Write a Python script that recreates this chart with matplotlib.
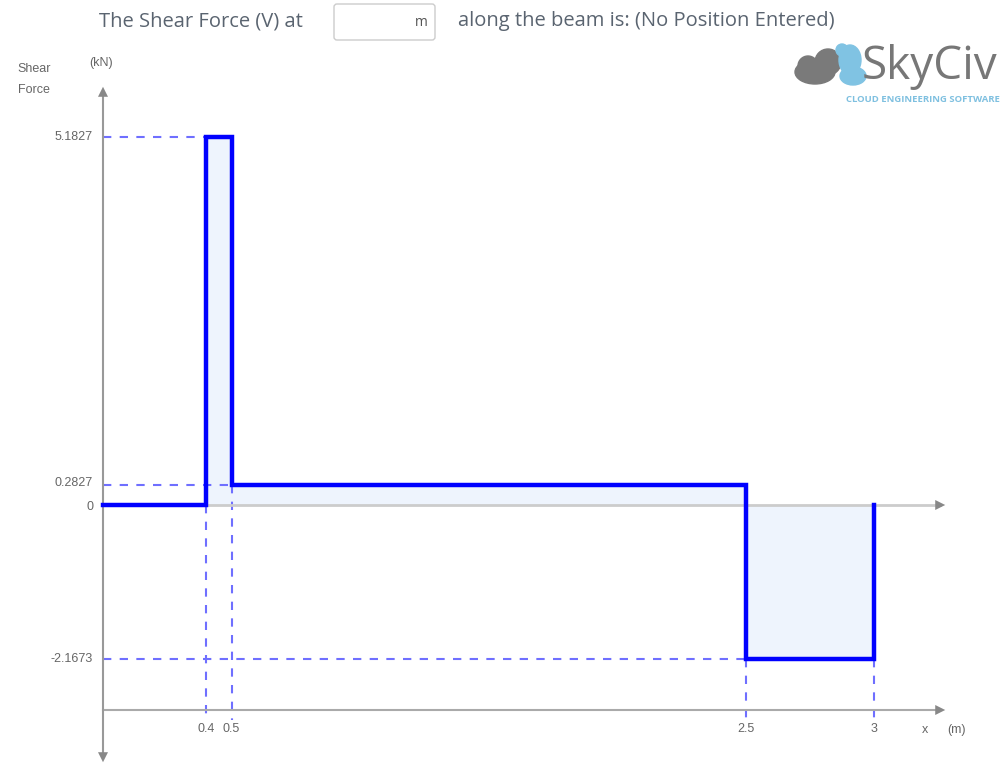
import matplotlib
matplotlib.use("Agg")
import matplotlib.pyplot as plt
from matplotlib.patches import FancyBboxPatch, Ellipse, Circle

# shear force diagram data
x_points = [0, 0.4, 0.5, 2.5, 3]
seg_values = [0, 5.1827, 0.2827, -2.1673]
x_labels = ["0.4", "0.5", "2.5", "3"]
y_labels = ["5.1827", "0.2827", "0", "-2.1673"]

BLUE = "#0000ff"
DASH = "#6f6fff"
FILL = "#eef4fd"
TXT = "#666666"

W, H = 1005, 767
fig = plt.figure(figsize=(W / 100, H / 100), dpi=100)

# chart axes: x=0 at px 103, 257 px per m; y=0 at px 505, 71 px per kN
ax = fig.add_axes([0, 0, 1, 1])
sx, sy = 257.0, 71.0
x0, y0 = 103.0, 505.0
ax.set_xlim(-x0 / sx, (W - x0) / sx)
ax.set_ylim(-(H - y0) / sy, y0 / sy)
ax.axis("off")

# step outline
xs, ys = [x_points[0]], [seg_values[0]]
for i, v in enumerate(seg_values):
    xs += [x_points[i], x_points[i + 1]]
    ys += [v, v]
xs.append(x_points[-1])
ys.append(0)

ax.fill_between(x_points, seg_values + [seg_values[-1]], 0, step="post",
                color=FILL, lw=0, zorder=1)

bottom_axis = -205 / sy
dash_end = -215 / sy

# dashed guides
for i in range(1, len(x_points)):
    prev_v = seg_values[i - 1]
    next_v = seg_values[i] if i < len(seg_values) else 0
    ax.plot([x_points[i], x_points[i]], [min(prev_v, next_v), dash_end],
            color=DASH, lw=1.5, ls=(0, (4, 4)), zorder=2)
for i, v in enumerate(seg_values):
    if v != 0:
        ax.plot([0, x_points[i]], [v, v], color=DASH, lw=1.5,
                ls=(0, (4, 4)), zorder=2)

# axes lines
tip_x = (948 - x0) / sx
ax.plot([0, tip_x - 0.03], [0, 0], color="#cccccc", lw=2, zorder=2)
ax.annotate("", xy=(tip_x, 0), xytext=(tip_x - 0.05, 0),
            arrowprops=dict(arrowstyle="-|>", color="#888888", lw=0,
                            mutation_scale=18))
ax.plot([0, tip_x - 0.03], [bottom_axis, bottom_axis], color="#aaaaaa",
        lw=1.5, zorder=2)
ax.annotate("", xy=(tip_x, bottom_axis), xytext=(tip_x - 0.05, bottom_axis),
            arrowprops=dict(arrowstyle="-|>", color="#888888", lw=0,
                            mutation_scale=18))
top_tip = (y0 - 84) / sy
bot_tip = -(765 - y0) / sy
ax.plot([0, 0], [bot_tip + 0.15, top_tip - 0.15], color="#999999", lw=1.5,
        zorder=2)
ax.annotate("", xy=(0, top_tip), xytext=(0, top_tip - 0.2),
            arrowprops=dict(arrowstyle="-|>", color="#888888", lw=0,
                            mutation_scale=18))
ax.annotate("", xy=(0, bot_tip), xytext=(0, bot_tip + 0.2),
            arrowprops=dict(arrowstyle="-|>", color="#888888", lw=0,
                            mutation_scale=18))

ax.plot(xs, ys, color=BLUE, lw=3.2, solid_joinstyle="miter", zorder=4)

# tick labels
lab_font = dict(family="Liberation Sans", fontsize=9, color=TXT)
y_vals = [5.1827, 0.2827, 0, -2.1673]
for v, s in zip(y_vals, y_labels):
    off = 0.03 if v == 0.2827 else (-0.03 if v == 0 else 0)
    ax.text(-10 / sx, v + off, s, ha="right", va="center", **lab_font)
for xv, s in zip(x_points[1:], x_labels):
    ax.text(xv, (y0 - 729) / sy, s, ha="center", va="center", **lab_font)
ax.text((925 - x0) / sx, (y0 - 730) / sy, "x", ha="center", va="center", **lab_font)
ax.text((956 - x0) / sx, (y0 - 730) / sy, "(m)", ha="center", va="center", **lab_font)
ax.text((34 - x0) / sx, (y0 - 69) / sy, "Shear", ha="center", va="center", **lab_font)
ax.text((34 - x0) / sx, (y0 - 90) / sy, "Force", ha="center", va="center", **lab_font)
ax.text((101 - x0) / sx, (y0 - 63) / sy, "(kN)", ha="center", va="center", **lab_font)

# header and logo in pixel coordinates
pax = fig.add_axes([0, 0, 1, 1], facecolor="none")
pax.set_xlim(0, W)
pax.set_ylim(H, 0)
pax.axis("off")

head = dict(family="Open Sans", fontsize=14.5, color="#5a6470", va="center")
pax.text(99, 21, "The Shear Force (V) at", ha="left", **head)
pax.add_patch(FancyBboxPatch((334, 4), 101, 36, boxstyle="round,pad=0,rounding_size=3",
                             fc="white", ec="#cccccc", lw=1))
pax.text(428, 23, "m", ha="right", va="center", family="Open Sans",
         fontsize=10, color="#555555")
pax.text(458, 21, "along the beam is: (No Position Entered)", ha="left", **head)

# SkyCiv logo
gray = "#7a7a7a"
lblue = "#80c3e3"
pax.add_patch(Ellipse((815, 72), 40, 24, color=gray, zorder=5))
pax.add_patch(Circle((828, 62), 13, color=gray, zorder=5))
pax.add_patch(Circle((808, 66), 10, color=gray, zorder=5))
pax.add_patch(Ellipse((850, 60), 22, 30, color=lblue, zorder=6))
pax.add_patch(Ellipse((853, 76), 26, 18, color=lblue, zorder=6))
pax.add_patch(Circle((842, 50), 6, color=lblue, zorder=6))
pax.text(862, 67, "SkyCiv", ha="left", va="center", family="Open Sans",
         fontsize=33, color="#777777", zorder=7)
pax.text(1000, 99, "CLOUD ENGINEERING SOFTWARE", ha="right", va="center",
         family="Open Sans", fontsize=6.8, fontweight="bold", color="#7fc0e0",
         zorder=7)

fig.savefig("out.png", dpi=100, facecolor="white")
